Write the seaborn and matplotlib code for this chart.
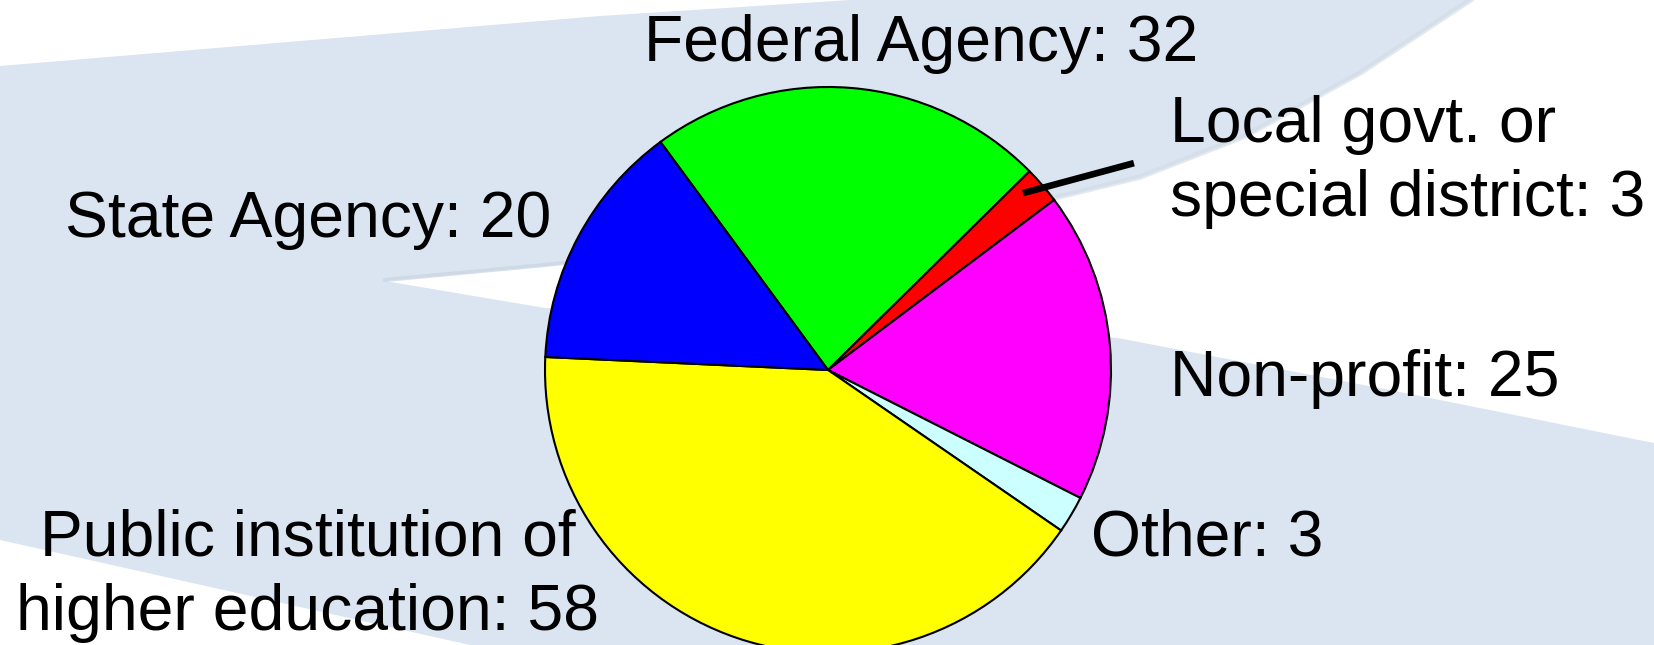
import numpy as np
import pandas as pd
import matplotlib
matplotlib.use("Agg")
import matplotlib.pyplot as plt
import seaborn as sns

# Chart data (clockwise from the top-left edge of the green slice)
categories = ["Federal Agency", "Local govt. or\nspecial district", "Non-profit",
              "Other", "Public institution of\nhigher education", "State Agency"]
counts = [32, 3, 25, 3, 58, 20]
slice_colors = ["#00ff00", "#ff0000", "#ff00ff", "#ccffff", "#ffff00", "#0000ff"]

df = pd.DataFrame({"category": categories, "count": counts})

# Label placement (data units, pie radius = 1)
label_x = [0.329, 1.207, 1.207, 0.93, -1.838, -0.979]
label_y = [1.092, 0.806, -0.092, -0.657, -0.657, 0.470]
label_ha = ["center", "left", "left", "left", "center", "right"]

sns.set_theme(style="white")
plt.rcParams["font.family"] = ["Liberation Sans", "DejaVu Sans"]

W, H, DPI = 1654, 645, 100
fig = plt.figure(figsize=(W / DPI, H / DPI), dpi=DPI)
fig.patch.set_facecolor("#dbe5f1")

# background swooshes, in pixel units
bg = fig.add_axes([0, 0, 1, 1])
bg.set_xlim(0, W)
bg.set_ylim(H, 0)
bg.axis("off")
bg.fill([0, 0, 600, 850], [0, 66, 16, 0], color="white", lw=0)
bg.fill([385, 545, 828, 1050, 1140, 1245, 1360, 1472, 1654, 1654, 1400, 1118, 828, 545],
        [281, 266, 235, 200, 178, 137, 74, 0, 0, 443, 392, 338, 318, 308],
        color="white", lw=0)
bg.plot([385, 545, 828], [280, 265, 234], color="#c9d4e2", lw=3, alpha=0.7)
bg.plot([1050, 1140, 1245, 1360, 1472], [199, 177, 136, 73, -1], color="#d2dbe6", lw=4, alpha=0.6)
bg.fill([0, 0, 470], [540, 645, 645], color="white", lw=0)

# pie
ax = fig.add_axes([0, 0, 1, 1])
ax.patch.set_alpha(0)
ax.pie(df["count"], colors=slice_colors, startangle=126.3, counterclock=False,
       wedgeprops=dict(edgecolor="black", linewidth=1.5))
px = 283.0
ax.set_xlim(-828 / px, (W - 828) / px)
ax.set_ylim(-(H - 370) / px, 370 / px)
ax.set_aspect("equal")
ax.axis("off")

line_step = 74 / px
for i, row in df.iterrows():
    lines = f"{row['category']}: {row['count']}".split("\n")
    for j, ln in enumerate(lines):
        ax.text(label_x[i], label_y[i] - j * line_step, ln, ha=label_ha[i],
                va="baseline", fontsize=46.3, color="black")

# leader line for the small local-government slice
ax.plot([0.689, 1.081], [0.625, 0.731], color="black", lw=4.8, solid_capstyle="butt")

fig.savefig("out.png", dpi=DPI, facecolor=fig.get_facecolor())
